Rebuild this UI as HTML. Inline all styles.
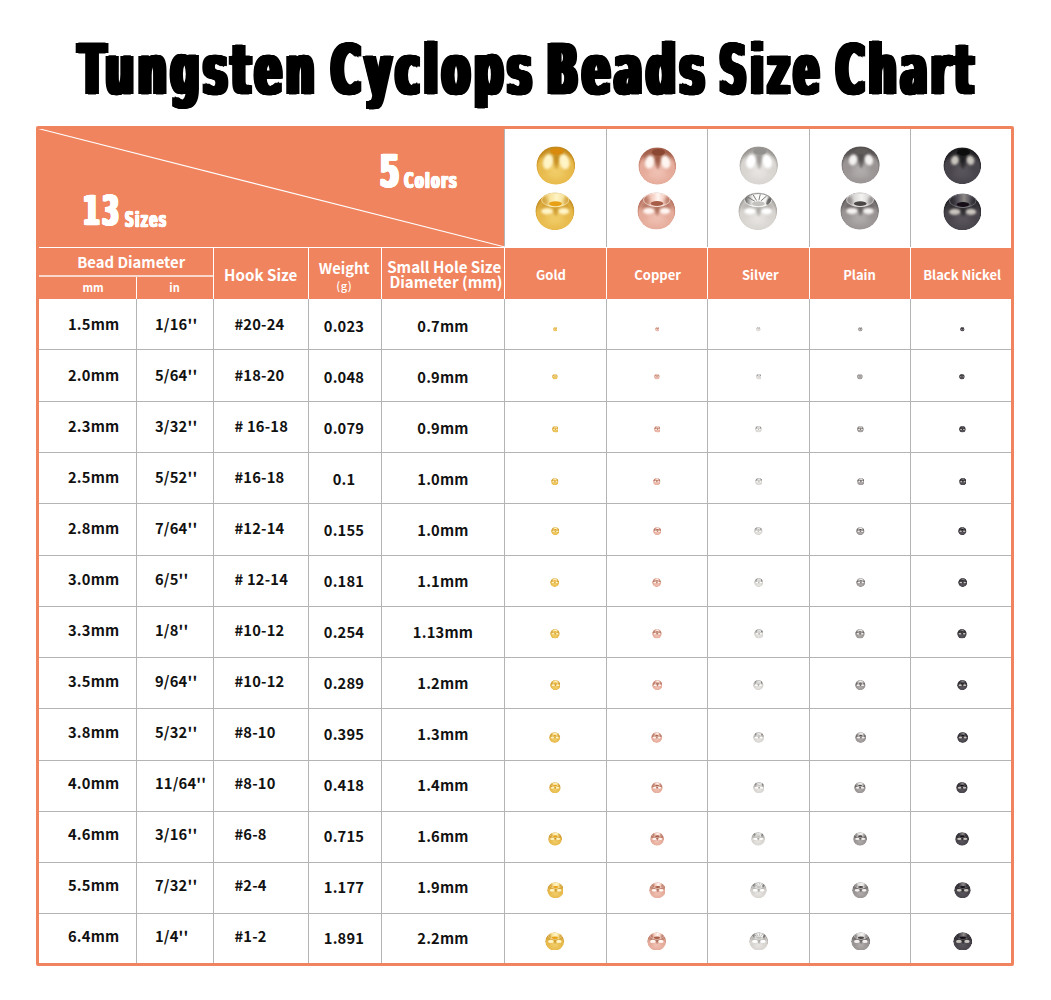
<!DOCTYPE html><html lang="en"><head><meta charset="utf-8"><title>Tungsten Cyclops Beads Size Chart</title><style>
*{margin:0;padding:0;box-sizing:border-box}
html,body{width:1051px;height:1000px;background:#fff;overflow:hidden}
body{position:relative;font-family:"Noto Sans CJK SC","Liberation Sans",sans-serif;font-weight:700;color:#111}
.abs{position:absolute}
.title span{position:absolute;left:0;top:0;transform-origin:0 0;font-family:'DejaVu Sans',sans-serif;font-weight:700;font-size:62.0px;line-height:76.0px;letter-spacing:7.0px;-webkit-text-stroke:1.0px #000;text-shadow:-5px 0 0 #000,-4px 0 0 #000,-3px 0 0 #000,-2px 0 0 #000,-1px 0 0 #000,1px 0 0 #000,2px 0 0 #000,3px 0 0 #000,4px 0 0 #000,5px 0 0 #000;color:#000;white-space:nowrap}
.frame{left:36px;top:126px;width:978px;height:840px;border:3px solid #f0845f;border-radius:2px}
.or{background:#f0845f}
.vl{width:1px;background:#b4b4b4}
.hl{height:1px;background:#b4b4b4}
.w{background:#fff}
.t{position:absolute;white-space:nowrap;font-size:14.7px;letter-spacing:0.2px;line-height:20px;height:20px}
.h{position:absolute;white-space:nowrap;color:#fff;line-height:20px}
.imp2{position:absolute;left:0;top:0;transform-origin:0 0}
</style></head><body>
<div class="title">
<span style="transform:matrix(0.6371,0,0,1.1087,78.59,28.39)">Tungsten</span>
<span style="transform:matrix(0.6459,0,0,1.1087,331.29,28.39)">Cyclops</span>
<span style="transform:matrix(0.6539,0,0,1.1087,546.95,28.39)">Beads</span>
<span style="transform:matrix(0.603,0,0,1.1087,719.6,28.39)">Size</span>
<span style="transform:matrix(0.6236,0,0,1.1087,836.15,28.39)">Chart</span>
</div>
<div class="abs or" style="left:38px;top:128px;width:467px;height:171px"></div>
<div class="abs or" style="left:504px;top:248px;width:508px;height:51px"></div>
<div class="abs vl" style="left:136px;top:299px;height:665px"></div>
<div class="abs vl" style="left:213px;top:299px;height:665px"></div>
<div class="abs vl" style="left:308px;top:299px;height:665px"></div>
<div class="abs vl" style="left:381px;top:299px;height:665px"></div>
<div class="abs vl" style="left:504px;top:129px;height:835px"></div>
<div class="abs vl" style="left:606px;top:129px;height:835px"></div>
<div class="abs vl" style="left:707px;top:129px;height:835px"></div>
<div class="abs vl" style="left:809px;top:129px;height:835px"></div>
<div class="abs vl" style="left:910px;top:129px;height:835px"></div>
<div class="abs vl w" style="left:213px;top:247px;height:52px"></div>
<div class="abs vl w" style="left:308px;top:247px;height:52px"></div>
<div class="abs vl w" style="left:381px;top:247px;height:52px"></div>
<div class="abs vl w" style="left:136px;top:277px;height:22px"></div>
<div class="abs vl w" style="left:504px;top:247px;height:52px"></div>
<div class="abs vl w" style="left:606px;top:247px;height:52px"></div>
<div class="abs vl w" style="left:707px;top:247px;height:52px"></div>
<div class="abs vl w" style="left:809px;top:247px;height:52px"></div>
<div class="abs vl w" style="left:910px;top:247px;height:52px"></div>
<div class="abs hl w" style="left:38px;top:247px;width:467px"></div>
<div class="abs" style="left:38px;top:275px;width:176px;height:2px;background:rgba(255,255,255,.68)"></div>
<div class="abs hl" style="left:39px;top:349px;width:972px"></div>
<div class="abs hl" style="left:39px;top:401px;width:972px"></div>
<div class="abs hl" style="left:39px;top:452px;width:972px"></div>
<div class="abs hl" style="left:39px;top:503px;width:972px"></div>
<div class="abs hl" style="left:39px;top:555px;width:972px"></div>
<div class="abs hl" style="left:39px;top:606px;width:972px"></div>
<div class="abs hl" style="left:39px;top:657px;width:972px"></div>
<div class="abs hl" style="left:39px;top:708px;width:972px"></div>
<div class="abs hl" style="left:39px;top:760px;width:972px"></div>
<div class="abs hl" style="left:39px;top:811px;width:972px"></div>
<div class="abs hl" style="left:39px;top:862px;width:972px"></div>
<div class="abs hl" style="left:39px;top:913px;width:972px"></div>
<svg class="abs" style="left:38px;top:128px" width="467" height="120" viewBox="0 0 467 120"><line x1="0" y1="0.5" x2="467" y2="119" stroke="#fff" stroke-width="1.1"/></svg>
<div class="abs frame"></div>
<span class="imp2" style="font-family:'DejaVu Sans',sans-serif;font-weight:700;font-size:38px;line-height:48px;letter-spacing:4px;text-shadow:-2.5px 0 0 #fff,-2px 0 0 #fff,-1.5px 0 0 #fff,-1px 0 0 #fff,-0.5px 0 0 #fff,0.5px 0 0 #fff,1px 0 0 #fff,1.5px 0 0 #fff,2px 0 0 #fff,2.5px 0 0 #fff;-webkit-text-stroke:0.6px #fff;color:#fff;white-space:nowrap;transform:matrix(0.6327,0,0,1.0931,82.93,184.96)">13</span>
<span class="imp2" style="font-family:'DejaVu Sans',sans-serif;font-weight:700;font-size:20px;line-height:30px;letter-spacing:2.5px;text-shadow:-1.5px 0 0 #fff,-1px 0 0 #fff,-0.5px 0 0 #fff,0.5px 0 0 #fff,1px 0 0 #fff,1.5px 0 0 #fff;-webkit-text-stroke:0.6px #fff;color:#fff;white-space:nowrap;transform:matrix(0.6014,0,0,1.0333,125.0,203.97)">Sizes</span>
<span class="imp2" style="font-family:'DejaVu Sans',sans-serif;font-weight:700;font-size:38px;line-height:48px;letter-spacing:0px;text-shadow:-2.5px 0 0 #fff,-2px 0 0 #fff,-1.5px 0 0 #fff,-1px 0 0 #fff,-0.5px 0 0 #fff,0.5px 0 0 #fff,1px 0 0 #fff,1.5px 0 0 #fff,2px 0 0 #fff,2.5px 0 0 #fff;-webkit-text-stroke:0.6px #fff;color:#fff;white-space:nowrap;transform:matrix(0.7231,0,0,1.15,380.0,144.3)">5</span>
<span class="imp2" style="font-family:'DejaVu Sans',sans-serif;font-weight:700;font-size:20px;line-height:30px;letter-spacing:2.5px;text-shadow:-1.5px 0 0 #fff,-1px 0 0 #fff,-0.5px 0 0 #fff,0.5px 0 0 #fff,1px 0 0 #fff,1.5px 0 0 #fff;-webkit-text-stroke:0.6px #fff;color:#fff;white-space:nowrap;transform:matrix(0.6286,0,0,1.0467,404.2,164.67)">Colors</span>
<div class="h" style="left:31.19999999999999px;width:200px;text-align:center;top:252px;font-size:14.85px;">Bead Diameter</div>
<div class="h" style="left:-7px;width:200px;text-align:center;top:277.2px;font-size:11px;">mm</div>
<div class="h" style="left:74.5px;width:200px;text-align:center;top:277.2px;font-size:11px;">in</div>
<div class="h" style="left:160.7px;width:200px;text-align:center;top:263.5px;font-size:15.1px;">Hook Size</div>
<div class="h" style="left:244.10000000000002px;width:200px;text-align:center;top:258px;font-size:14.7px;">Weight</div>
<div class="h" style="left:244.2px;width:200px;text-align:center;top:274.6px;font-size:11px;font-weight:500;letter-spacing:0.6px">(g)</div>
<div class="h" style="left:344.2px;width:200px;text-align:center;top:256.2px;font-size:15.1px;">Small Hole Size</div>
<div class="h" style="left:346px;width:200px;text-align:center;top:271.2px;font-size:15.15px;">Diameter (mm)</div>
<div class="h" style="left:451px;width:200px;text-align:center;top:264.6px;font-size:13px;">Gold</div>
<div class="h" style="left:557.6px;width:200px;text-align:center;top:264.6px;font-size:13px;">Copper</div>
<div class="h" style="left:660.4px;width:200px;text-align:center;top:264.6px;font-size:13px;">Silver</div>
<div class="h" style="left:759.5px;width:200px;text-align:center;top:264.6px;font-size:13px;">Plain</div>
<div class="h" style="left:862.2px;width:200px;text-align:center;top:264.6px;font-size:13px;">Black Nickel</div>
<svg width="0" height="0" style="position:absolute"><defs><filter id="bl05" x="-50%" y="-50%" width="200%" height="200%"><feGaussianBlur stdDeviation="0.5"/></filter><filter id="bl1" x="-50%" y="-50%" width="200%" height="200%"><feGaussianBlur stdDeviation="1"/></filter><filter id="bl15" x="-50%" y="-50%" width="200%" height="200%"><feGaussianBlur stdDeviation="1.3"/></filter><filter id="bl2" x="-50%" y="-50%" width="200%" height="200%"><feGaussianBlur stdDeviation="2"/></filter><filter id="bl3" x="-50%" y="-50%" width="200%" height="200%"><feGaussianBlur stdDeviation="3"/></filter><radialGradient id="g-gold" cx="50%" cy="56%" r="52%" fx="50%" fy="60%"><stop offset="0" stop-color="#f2d06e"/><stop offset="0.55" stop-color="#e8ba4c"/><stop offset="0.86" stop-color="#e8ba4c"/><stop offset="1" stop-color="#c48c20"/></radialGradient><linearGradient id="c-gold" x1="0" x2="1" y1="0" y2="0"><stop offset="0" stop-color="#dba83a"/><stop offset="0.3" stop-color="#f7e29a"/><stop offset="0.55" stop-color="#fff4c6"/><stop offset="0.8" stop-color="#f7e29a"/><stop offset="1" stop-color="#dba83a"/></linearGradient><radialGradient id="g-copper" cx="50%" cy="56%" r="52%" fx="50%" fy="60%"><stop offset="0" stop-color="#f1c4b7"/><stop offset="0.55" stop-color="#e6ac9b"/><stop offset="0.86" stop-color="#e6ac9b"/><stop offset="1" stop-color="#bd7966"/></radialGradient><linearGradient id="c-copper" x1="0" x2="1" y1="0" y2="0"><stop offset="0" stop-color="#c27c68"/><stop offset="0.3" stop-color="#f3c9bb"/><stop offset="0.55" stop-color="#fff5f1"/><stop offset="0.8" stop-color="#f3c9bb"/><stop offset="1" stop-color="#c27c68"/></linearGradient><radialGradient id="g-silver" cx="50%" cy="56%" r="52%" fx="50%" fy="60%"><stop offset="0" stop-color="#e9e7e4"/><stop offset="0.55" stop-color="#d8d5d1"/><stop offset="0.86" stop-color="#d8d5d1"/><stop offset="1" stop-color="#9f9c98"/></radialGradient><linearGradient id="c-silver" x1="0" x2="1" y1="0" y2="0"><stop offset="0" stop-color="#5c5a58"/><stop offset="0.3" stop-color="#f4f3f1"/><stop offset="0.55" stop-color="#ffffff"/><stop offset="0.8" stop-color="#f4f3f1"/><stop offset="1" stop-color="#5c5a58"/></linearGradient><radialGradient id="g-plain" cx="50%" cy="56%" r="52%" fx="50%" fy="60%"><stop offset="0" stop-color="#b4b0af"/><stop offset="0.55" stop-color="#9a9594"/><stop offset="0.86" stop-color="#9a9594"/><stop offset="1" stop-color="#625e5e"/></radialGradient><linearGradient id="c-plain" x1="0" x2="1" y1="0" y2="0"><stop offset="0" stop-color="#a09c9b"/><stop offset="0.3" stop-color="#dcdad8"/><stop offset="0.55" stop-color="#f4f2f0"/><stop offset="0.8" stop-color="#dcdad8"/><stop offset="1" stop-color="#a09c9b"/></linearGradient><radialGradient id="g-black" cx="50%" cy="56%" r="52%" fx="50%" fy="60%"><stop offset="0" stop-color="#5c585e"/><stop offset="0.55" stop-color="#49454c"/><stop offset="0.86" stop-color="#49454c"/><stop offset="1" stop-color="#242226"/></radialGradient><linearGradient id="c-black" x1="0" x2="1" y1="0" y2="0"><stop offset="0" stop-color="#2e2c31"/><stop offset="0.3" stop-color="#55515a"/><stop offset="0.55" stop-color="#8d8986"/><stop offset="0.8" stop-color="#55515a"/><stop offset="1" stop-color="#2e2c31"/></linearGradient></defs><symbol id="t-gold" viewBox="0 0 40 40"><clipPath id="cp1"><ellipse cx="20" cy="20" rx="19.6" ry="19.6"/></clipPath><g clip-path="url(#cp1)"><ellipse cx="20.00" cy="20.00" rx="19.60" ry="19.60" fill="url(#g-gold)"/><ellipse cx="20.00" cy="8.24" rx="15.68" ry="8.82" fill="#c0871a" opacity="0.6" filter="url(#bl2)"/><ellipse cx="12.16" cy="16.08" rx="5.10" ry="7.84" fill="#fff4c6" filter="url(#bl15)" transform="rotate(12 12.16 16.08)"/><ellipse cx="28.62" cy="16.08" rx="5.10" ry="7.84" fill="#fff4c6" filter="url(#bl15)" transform="rotate(-12 28.62 16.08)"/><ellipse cx="20.59" cy="15.10" rx="1.76" ry="8.82" fill="#c0871a" opacity="0.75" filter="url(#bl1)"/><ellipse cx="20.00" cy="29.80" rx="11.76" ry="5.88" fill="#f2d06e" opacity="0.5" filter="url(#bl3)"/><ellipse cx="21.18" cy="5.50" rx="6.66" ry="3.53" fill="#d98a0c" filter="url(#bl05)"/></g></symbol><symbol id="b-gold" viewBox="0 0 40 40"><clipPath id="cp2"><ellipse cx="20" cy="20" rx="19.6" ry="19.6"/></clipPath><g clip-path="url(#cp2)"><ellipse cx="20.00" cy="20.00" rx="19.60" ry="19.60" fill="url(#g-gold)"/><ellipse cx="20.00" cy="14.51" rx="17.64" ry="5.88" fill="#c0871a" opacity="0.42" filter="url(#bl2)"/><ellipse cx="12.16" cy="20.00" rx="5.88" ry="3.33" fill="#fff4c6" filter="url(#bl15)"/><ellipse cx="28.82" cy="20.00" rx="5.49" ry="3.33" fill="#fff4c6" filter="url(#bl15)"/><ellipse cx="20.78" cy="20.39" rx="1.57" ry="4.90" fill="#c0871a" opacity="0.6" filter="url(#bl1)"/><ellipse cx="20.00" cy="30.78" rx="11.76" ry="5.49" fill="#f2d06e" opacity="0.5" filter="url(#bl3)"/><ellipse cx="20.39" cy="8.24" rx="13.72" ry="7.06" fill="url(#c-gold)" stroke="#fff4c6" stroke-width="0.8"/><ellipse cx="10.20" cy="9.22" rx="2.74" ry="4.31" fill="#c0871a" opacity="0.35" filter="url(#bl1)" transform="rotate(-20 10.20 9.22)"/><ellipse cx="30.78" cy="9.22" rx="2.74" ry="4.31" fill="#c0871a" opacity="0.35" filter="url(#bl1)" transform="rotate(20 30.78 9.22)"/><ellipse cx="20.59" cy="12.16" rx="6.47" ry="2.55" fill="#e8a013" filter="url(#bl05)"/></g></symbol><symbol id="t-copper" viewBox="0 0 40 40"><clipPath id="cp3"><ellipse cx="20" cy="20" rx="19.6" ry="19.6"/></clipPath><g clip-path="url(#cp3)"><ellipse cx="20.00" cy="20.00" rx="19.60" ry="19.60" fill="url(#g-copper)"/><ellipse cx="20.00" cy="8.24" rx="15.68" ry="8.82" fill="#96523e" opacity="0.78" filter="url(#bl2)"/><ellipse cx="12.16" cy="15.69" rx="4.90" ry="7.06" fill="#fff5f1" filter="url(#bl15)" transform="rotate(12 12.16 15.69)"/><ellipse cx="28.62" cy="15.69" rx="4.90" ry="7.06" fill="#fff5f1" filter="url(#bl15)" transform="rotate(-12 28.62 15.69)"/><ellipse cx="20.59" cy="15.10" rx="1.76" ry="8.82" fill="#96523e" opacity="0.75" filter="url(#bl1)"/><ellipse cx="20.00" cy="29.80" rx="11.76" ry="5.88" fill="#f1c4b7" opacity="0.5" filter="url(#bl3)"/><ellipse cx="21.18" cy="5.50" rx="6.66" ry="3.53" fill="#8a4632" filter="url(#bl05)"/></g></symbol><symbol id="b-copper" viewBox="0 0 40 40"><clipPath id="cp4"><ellipse cx="20" cy="20" rx="19.6" ry="19.6"/></clipPath><g clip-path="url(#cp4)"><ellipse cx="20.00" cy="20.00" rx="19.60" ry="19.60" fill="url(#g-copper)"/><ellipse cx="20.00" cy="14.51" rx="17.64" ry="5.88" fill="#96523e" opacity="0.5459999999999999" filter="url(#bl2)"/><ellipse cx="12.16" cy="20.00" rx="5.88" ry="3.33" fill="#fff5f1" filter="url(#bl15)"/><ellipse cx="28.82" cy="20.00" rx="5.49" ry="3.33" fill="#fff5f1" filter="url(#bl15)"/><ellipse cx="20.78" cy="20.39" rx="1.57" ry="4.90" fill="#96523e" opacity="0.6" filter="url(#bl1)"/><ellipse cx="20.00" cy="30.78" rx="11.76" ry="5.49" fill="#f1c4b7" opacity="0.5" filter="url(#bl3)"/><ellipse cx="20.39" cy="8.24" rx="13.72" ry="7.06" fill="url(#c-copper)" stroke="#fff5f1" stroke-width="0.8"/><ellipse cx="10.20" cy="9.22" rx="2.74" ry="4.31" fill="#96523e" opacity="0.35" filter="url(#bl1)" transform="rotate(-20 10.20 9.22)"/><ellipse cx="30.78" cy="9.22" rx="2.74" ry="4.31" fill="#96523e" opacity="0.35" filter="url(#bl1)" transform="rotate(20 30.78 9.22)"/><ellipse cx="20.59" cy="12.16" rx="6.47" ry="2.55" fill="#a75d47" filter="url(#bl05)"/></g></symbol><symbol id="t-silver" viewBox="0 0 40 40"><clipPath id="cp5"><ellipse cx="20" cy="20" rx="19.6" ry="19.6"/></clipPath><g clip-path="url(#cp5)"><ellipse cx="20.00" cy="20.00" rx="19.60" ry="19.60" fill="url(#g-silver)"/><ellipse cx="20.00" cy="8.24" rx="15.68" ry="8.82" fill="#94918d" opacity="0.65" filter="url(#bl2)"/><ellipse cx="12.16" cy="15.69" rx="5.10" ry="7.45" fill="#ffffff" filter="url(#bl15)" transform="rotate(12 12.16 15.69)"/><ellipse cx="28.62" cy="15.69" rx="5.10" ry="7.45" fill="#ffffff" filter="url(#bl15)" transform="rotate(-12 28.62 15.69)"/><ellipse cx="20.59" cy="15.10" rx="1.76" ry="8.82" fill="#94918d" opacity="0.75" filter="url(#bl1)"/><ellipse cx="20.00" cy="29.80" rx="11.76" ry="5.88" fill="#e9e7e4" opacity="0.5" filter="url(#bl3)"/><ellipse cx="21.18" cy="5.50" rx="6.66" ry="3.53" fill="#93918e" filter="url(#bl05)"/></g></symbol><symbol id="b-silver" viewBox="0 0 40 40"><clipPath id="cp6"><ellipse cx="20" cy="20" rx="19.6" ry="19.6"/></clipPath><g clip-path="url(#cp6)"><ellipse cx="20.00" cy="20.00" rx="19.60" ry="19.60" fill="url(#g-silver)"/><ellipse cx="20.00" cy="14.51" rx="17.64" ry="5.88" fill="#94918d" opacity="0.45499999999999996" filter="url(#bl2)"/><ellipse cx="12.16" cy="20.00" rx="5.88" ry="3.33" fill="#ffffff" filter="url(#bl15)"/><ellipse cx="28.82" cy="20.00" rx="5.49" ry="3.33" fill="#ffffff" filter="url(#bl15)"/><ellipse cx="20.78" cy="20.39" rx="1.57" ry="4.90" fill="#94918d" opacity="0.6" filter="url(#bl1)"/><ellipse cx="20.00" cy="30.78" rx="11.76" ry="5.49" fill="#e9e7e4" opacity="0.5" filter="url(#bl3)"/><ellipse cx="20.39" cy="8.24" rx="13.72" ry="7.06" fill="url(#c-silver)" stroke="#ffffff" stroke-width="0.8"/><line x1="17.00" y1="9.61" x2="9.87" y2="5.30" stroke="#5c5a58" stroke-width="1" opacity="0.8"/><line x1="18.74" y1="8.82" x2="15.26" y2="2.91" stroke="#5c5a58" stroke-width="1" opacity="0.8"/><line x1="21.07" y1="8.66" x2="22.50" y2="2.45" stroke="#5c5a58" stroke-width="1" opacity="0.8"/><line x1="23.16" y1="9.21" x2="28.98" y2="4.08" stroke="#5c5a58" stroke-width="1" opacity="0.8"/><path d="M7.06 8.24 A13.33 6.66 0 0 1 33.72 8.24" fill="none" stroke="#5c5a58" stroke-width="0.9" opacity="0.75"/><ellipse cx="30.78" cy="9.81" rx="1.76" ry="3.92" fill="#5c5a58" opacity="0.8" filter="url(#bl05)" transform="rotate(25 30.78 9.81)"/><ellipse cx="20.59" cy="12.16" rx="6.47" ry="2.55" fill="#c4c2bf" filter="url(#bl05)"/></g></symbol><symbol id="t-plain" viewBox="0 0 40 40"><clipPath id="cp7"><ellipse cx="20" cy="20" rx="19.6" ry="19.6"/></clipPath><g clip-path="url(#cp7)"><ellipse cx="20.00" cy="20.00" rx="19.60" ry="19.60" fill="url(#g-plain)"/><ellipse cx="20.00" cy="8.24" rx="15.68" ry="8.82" fill="#524e4e" opacity="0.85" filter="url(#bl2)"/><ellipse cx="12.36" cy="14.51" rx="4.51" ry="5.88" fill="#f4f2f0" filter="url(#bl15)" transform="rotate(12 12.36 14.51)"/><ellipse cx="28.43" cy="14.51" rx="4.51" ry="5.88" fill="#f4f2f0" filter="url(#bl15)" transform="rotate(-12 28.43 14.51)"/><ellipse cx="20.59" cy="15.10" rx="1.76" ry="8.82" fill="#524e4e" opacity="0.75" filter="url(#bl1)"/><ellipse cx="20.00" cy="29.80" rx="11.76" ry="5.88" fill="#b4b0af" opacity="0.5" filter="url(#bl3)"/><ellipse cx="21.18" cy="5.50" rx="6.66" ry="3.53" fill="#5f5b5a" filter="url(#bl05)"/></g></symbol><symbol id="b-plain" viewBox="0 0 40 40"><clipPath id="cp8"><ellipse cx="20" cy="20" rx="19.6" ry="19.6"/></clipPath><g clip-path="url(#cp8)"><ellipse cx="20.00" cy="20.00" rx="19.60" ry="19.60" fill="url(#g-plain)"/><ellipse cx="20.00" cy="14.51" rx="17.64" ry="5.88" fill="#524e4e" opacity="0.595" filter="url(#bl2)"/><ellipse cx="12.16" cy="20.00" rx="5.88" ry="3.33" fill="#f4f2f0" filter="url(#bl15)"/><ellipse cx="28.82" cy="20.00" rx="5.49" ry="3.33" fill="#f4f2f0" filter="url(#bl15)"/><ellipse cx="20.78" cy="20.39" rx="1.57" ry="4.90" fill="#524e4e" opacity="0.6" filter="url(#bl1)"/><ellipse cx="20.00" cy="30.78" rx="11.76" ry="5.49" fill="#b4b0af" opacity="0.5" filter="url(#bl3)"/><ellipse cx="20.39" cy="8.24" rx="13.72" ry="7.06" fill="url(#c-plain)" stroke="#f4f2f0" stroke-width="0.8"/><ellipse cx="10.20" cy="9.22" rx="2.74" ry="4.31" fill="#524e4e" opacity="0.35" filter="url(#bl1)" transform="rotate(-20 10.20 9.22)"/><ellipse cx="30.78" cy="9.22" rx="2.74" ry="4.31" fill="#524e4e" opacity="0.35" filter="url(#bl1)" transform="rotate(20 30.78 9.22)"/><ellipse cx="20.59" cy="12.16" rx="6.47" ry="2.55" fill="#4b4747" filter="url(#bl05)"/></g></symbol><symbol id="t-black" viewBox="0 0 40 40"><clipPath id="cp9"><ellipse cx="20" cy="20" rx="19.6" ry="19.6"/></clipPath><g clip-path="url(#cp9)"><ellipse cx="20.00" cy="20.00" rx="19.60" ry="19.60" fill="url(#g-black)"/><ellipse cx="20.00" cy="8.24" rx="15.68" ry="8.82" fill="#1c1a1e" opacity="0.7" filter="url(#bl2)"/><ellipse cx="12.36" cy="14.12" rx="4.12" ry="5.10" fill="#c9c5be" filter="url(#bl15)" transform="rotate(12 12.36 14.12)"/><ellipse cx="28.43" cy="14.12" rx="4.12" ry="5.10" fill="#c9c5be" filter="url(#bl15)" transform="rotate(-12 28.43 14.12)"/><ellipse cx="20.59" cy="15.10" rx="1.76" ry="8.82" fill="#1c1a1e" opacity="0.75" filter="url(#bl1)"/><ellipse cx="20.00" cy="29.80" rx="11.76" ry="5.88" fill="#5c585e" opacity="0.5" filter="url(#bl3)"/><ellipse cx="21.18" cy="5.50" rx="6.66" ry="3.53" fill="#0c0b0e" filter="url(#bl05)"/></g></symbol><symbol id="b-black" viewBox="0 0 40 40"><clipPath id="cp10"><ellipse cx="20" cy="20" rx="19.6" ry="19.6"/></clipPath><g clip-path="url(#cp10)"><ellipse cx="20.00" cy="20.00" rx="19.60" ry="19.60" fill="url(#g-black)"/><ellipse cx="20.00" cy="14.51" rx="17.64" ry="5.88" fill="#1c1a1e" opacity="0.48999999999999994" filter="url(#bl2)"/><ellipse cx="12.16" cy="20.00" rx="5.88" ry="3.33" fill="#c9c5be" filter="url(#bl15)"/><ellipse cx="28.82" cy="20.00" rx="5.49" ry="3.33" fill="#c9c5be" filter="url(#bl15)"/><ellipse cx="20.78" cy="20.39" rx="1.57" ry="4.90" fill="#1c1a1e" opacity="0.6" filter="url(#bl1)"/><ellipse cx="20.00" cy="30.78" rx="11.76" ry="5.49" fill="#5c585e" opacity="0.5" filter="url(#bl3)"/><ellipse cx="20.39" cy="8.24" rx="13.72" ry="7.06" fill="url(#c-black)" stroke="#8a8690" stroke-width="0.8"/><ellipse cx="10.20" cy="9.22" rx="2.74" ry="4.31" fill="#1c1a1e" opacity="0.35" filter="url(#bl1)" transform="rotate(-20 10.20 9.22)"/><ellipse cx="30.78" cy="9.22" rx="2.74" ry="4.31" fill="#1c1a1e" opacity="0.35" filter="url(#bl1)" transform="rotate(20 30.78 9.22)"/><ellipse cx="20.59" cy="12.16" rx="6.47" ry="2.55" fill="#121114" filter="url(#bl05)"/></g></symbol></svg>
<div class="t" style="left:68px;top:314.2px">1.5mm</div>
<div class="t" style="left:155px;top:314.2px">1/16''</div>
<div class="t" style="left:234.5px;top:313.9px">#20-24</div>
<div class="t" style="left:294px;width:100px;text-align:center;top:315.8px">0.023</div>
<div class="t" style="left:393px;width:100px;text-align:center;top:315.8px">0.7mm</div>
<svg class="abs" style="left:552.70px;top:327.26px" width="4.59" height="4.48" viewBox="0 0 40 40" preserveAspectRatio="none"><use href="#b-gold"/></svg>
<svg class="abs" style="left:654.70px;top:327.26px" width="4.59" height="4.48" viewBox="0 0 40 40" preserveAspectRatio="none"><use href="#b-copper"/></svg>
<svg class="abs" style="left:756.20px;top:327.26px" width="4.59" height="4.48" viewBox="0 0 40 40" preserveAspectRatio="none"><use href="#b-silver"/></svg>
<svg class="abs" style="left:858.00px;top:327.26px" width="4.59" height="4.48" viewBox="0 0 40 40" preserveAspectRatio="none"><use href="#b-plain"/></svg>
<svg class="abs" style="left:960.00px;top:327.26px" width="4.59" height="4.48" viewBox="0 0 40 40" preserveAspectRatio="none"><use href="#b-black"/></svg>
<div class="t" style="left:68px;top:365.2px">2.0mm</div>
<div class="t" style="left:155px;top:365.2px">5/64''</div>
<div class="t" style="left:234.5px;top:364.9px">#18-20</div>
<div class="t" style="left:294px;width:100px;text-align:center;top:366.8px">0.048</div>
<div class="t" style="left:393px;width:100px;text-align:center;top:366.8px">0.9mm</div>
<svg class="abs" style="left:552.09px;top:374.16px" width="5.82" height="5.67" viewBox="0 0 40 40" preserveAspectRatio="none"><use href="#b-gold"/></svg>
<svg class="abs" style="left:654.09px;top:374.16px" width="5.82" height="5.67" viewBox="0 0 40 40" preserveAspectRatio="none"><use href="#b-copper"/></svg>
<svg class="abs" style="left:755.59px;top:374.16px" width="5.82" height="5.67" viewBox="0 0 40 40" preserveAspectRatio="none"><use href="#b-silver"/></svg>
<svg class="abs" style="left:857.39px;top:374.16px" width="5.82" height="5.67" viewBox="0 0 40 40" preserveAspectRatio="none"><use href="#b-plain"/></svg>
<svg class="abs" style="left:959.39px;top:374.16px" width="5.82" height="5.67" viewBox="0 0 40 40" preserveAspectRatio="none"><use href="#b-black"/></svg>
<div class="t" style="left:68px;top:416.2px">2.3mm</div>
<div class="t" style="left:155px;top:416.2px">3/32''</div>
<div class="t" style="left:234.5px;top:415.9px"># 16-18</div>
<div class="t" style="left:294px;width:100px;text-align:center;top:417.8px">0.079</div>
<div class="t" style="left:393px;width:100px;text-align:center;top:417.8px">0.9mm</div>
<svg class="abs" style="left:551.58px;top:426.17px" width="6.84" height="6.67" viewBox="0 0 40 40" preserveAspectRatio="none"><use href="#b-gold"/></svg>
<svg class="abs" style="left:653.58px;top:426.17px" width="6.84" height="6.67" viewBox="0 0 40 40" preserveAspectRatio="none"><use href="#b-copper"/></svg>
<svg class="abs" style="left:755.08px;top:426.17px" width="6.84" height="6.67" viewBox="0 0 40 40" preserveAspectRatio="none"><use href="#b-silver"/></svg>
<svg class="abs" style="left:856.88px;top:426.17px" width="6.84" height="6.67" viewBox="0 0 40 40" preserveAspectRatio="none"><use href="#b-plain"/></svg>
<svg class="abs" style="left:958.88px;top:426.17px" width="6.84" height="6.67" viewBox="0 0 40 40" preserveAspectRatio="none"><use href="#b-black"/></svg>
<div class="t" style="left:68px;top:467.2px">2.5mm</div>
<div class="t" style="left:155px;top:467.2px">5/52''</div>
<div class="t" style="left:234.5px;top:466.9px">#16-18</div>
<div class="t" style="left:294px;width:100px;text-align:center;top:468.8px">0.1</div>
<div class="t" style="left:393px;width:100px;text-align:center;top:468.8px">1.0mm</div>
<svg class="abs" style="left:551.22px;top:477.72px" width="7.55" height="7.36" viewBox="0 0 40 40" preserveAspectRatio="none"><use href="#b-gold"/></svg>
<svg class="abs" style="left:653.22px;top:477.72px" width="7.55" height="7.36" viewBox="0 0 40 40" preserveAspectRatio="none"><use href="#b-copper"/></svg>
<svg class="abs" style="left:754.72px;top:477.72px" width="7.55" height="7.36" viewBox="0 0 40 40" preserveAspectRatio="none"><use href="#b-silver"/></svg>
<svg class="abs" style="left:856.52px;top:477.72px" width="7.55" height="7.36" viewBox="0 0 40 40" preserveAspectRatio="none"><use href="#b-plain"/></svg>
<svg class="abs" style="left:958.52px;top:477.72px" width="7.55" height="7.36" viewBox="0 0 40 40" preserveAspectRatio="none"><use href="#b-black"/></svg>
<div class="t" style="left:68px;top:518.2px">2.8mm</div>
<div class="t" style="left:155px;top:518.2px">7/64''</div>
<div class="t" style="left:234.5px;top:517.9px">#12-14</div>
<div class="t" style="left:294px;width:100px;text-align:center;top:519.8px">0.155</div>
<div class="t" style="left:393px;width:100px;text-align:center;top:519.8px">1.0mm</div>
<svg class="abs" style="left:550.71px;top:527.02px" width="8.57" height="8.36" viewBox="0 0 40 40" preserveAspectRatio="none"><use href="#b-gold"/></svg>
<svg class="abs" style="left:652.71px;top:527.02px" width="8.57" height="8.36" viewBox="0 0 40 40" preserveAspectRatio="none"><use href="#b-copper"/></svg>
<svg class="abs" style="left:754.21px;top:527.02px" width="8.57" height="8.36" viewBox="0 0 40 40" preserveAspectRatio="none"><use href="#b-silver"/></svg>
<svg class="abs" style="left:856.01px;top:527.02px" width="8.57" height="8.36" viewBox="0 0 40 40" preserveAspectRatio="none"><use href="#b-plain"/></svg>
<svg class="abs" style="left:958.01px;top:527.02px" width="8.57" height="8.36" viewBox="0 0 40 40" preserveAspectRatio="none"><use href="#b-black"/></svg>
<div class="t" style="left:68px;top:569.2px">3.0mm</div>
<div class="t" style="left:155px;top:569.2px">6/5''</div>
<div class="t" style="left:234.5px;top:568.9px"># 12-14</div>
<div class="t" style="left:294px;width:100px;text-align:center;top:570.8px">0.181</div>
<div class="t" style="left:393px;width:100px;text-align:center;top:570.8px">1.1mm</div>
<svg class="abs" style="left:550.31px;top:577.62px" width="9.39" height="9.15" viewBox="0 0 40 40" preserveAspectRatio="none"><use href="#b-gold"/></svg>
<svg class="abs" style="left:652.31px;top:577.62px" width="9.39" height="9.15" viewBox="0 0 40 40" preserveAspectRatio="none"><use href="#b-copper"/></svg>
<svg class="abs" style="left:753.81px;top:577.62px" width="9.39" height="9.15" viewBox="0 0 40 40" preserveAspectRatio="none"><use href="#b-silver"/></svg>
<svg class="abs" style="left:855.61px;top:577.62px" width="9.39" height="9.15" viewBox="0 0 40 40" preserveAspectRatio="none"><use href="#b-plain"/></svg>
<svg class="abs" style="left:957.61px;top:577.62px" width="9.39" height="9.15" viewBox="0 0 40 40" preserveAspectRatio="none"><use href="#b-black"/></svg>
<div class="t" style="left:68px;top:620.2px">3.3mm</div>
<div class="t" style="left:155px;top:620.2px">1/8''</div>
<div class="t" style="left:234.5px;top:619.9px">#10-12</div>
<div class="t" style="left:294px;width:100px;text-align:center;top:621.8px">0.254</div>
<div class="t" style="left:393px;width:100px;text-align:center;top:621.8px">1.13mm</div>
<svg class="abs" style="left:550.05px;top:629.37px" width="9.90" height="9.65" viewBox="0 0 40 40" preserveAspectRatio="none"><use href="#b-gold"/></svg>
<svg class="abs" style="left:652.05px;top:629.37px" width="9.90" height="9.65" viewBox="0 0 40 40" preserveAspectRatio="none"><use href="#b-copper"/></svg>
<svg class="abs" style="left:753.55px;top:629.37px" width="9.90" height="9.65" viewBox="0 0 40 40" preserveAspectRatio="none"><use href="#b-silver"/></svg>
<svg class="abs" style="left:855.35px;top:629.37px" width="9.90" height="9.65" viewBox="0 0 40 40" preserveAspectRatio="none"><use href="#b-plain"/></svg>
<svg class="abs" style="left:957.35px;top:629.37px" width="9.90" height="9.65" viewBox="0 0 40 40" preserveAspectRatio="none"><use href="#b-black"/></svg>
<div class="t" style="left:68px;top:671.2px">3.5mm</div>
<div class="t" style="left:155px;top:671.2px">9/64''</div>
<div class="t" style="left:234.5px;top:670.9px">#10-12</div>
<div class="t" style="left:294px;width:100px;text-align:center;top:672.8px">0.289</div>
<div class="t" style="left:393px;width:100px;text-align:center;top:672.8px">1.2mm</div>
<svg class="abs" style="left:549.69px;top:679.93px" width="10.61" height="10.35" viewBox="0 0 40 40" preserveAspectRatio="none"><use href="#b-gold"/></svg>
<svg class="abs" style="left:651.69px;top:679.93px" width="10.61" height="10.35" viewBox="0 0 40 40" preserveAspectRatio="none"><use href="#b-copper"/></svg>
<svg class="abs" style="left:753.19px;top:679.93px" width="10.61" height="10.35" viewBox="0 0 40 40" preserveAspectRatio="none"><use href="#b-silver"/></svg>
<svg class="abs" style="left:854.99px;top:679.93px" width="10.61" height="10.35" viewBox="0 0 40 40" preserveAspectRatio="none"><use href="#b-plain"/></svg>
<svg class="abs" style="left:956.99px;top:679.93px" width="10.61" height="10.35" viewBox="0 0 40 40" preserveAspectRatio="none"><use href="#b-black"/></svg>
<div class="t" style="left:68px;top:722.2px">3.8mm</div>
<div class="t" style="left:155px;top:722.2px">5/32''</div>
<div class="t" style="left:234.5px;top:721.9px">#8-10</div>
<div class="t" style="left:294px;width:100px;text-align:center;top:723.8px">0.395</div>
<div class="t" style="left:393px;width:100px;text-align:center;top:723.8px">1.3mm</div>
<svg class="abs" style="left:549.34px;top:731.88px" width="11.33" height="11.04" viewBox="0 0 40 40" preserveAspectRatio="none"><use href="#b-gold"/></svg>
<svg class="abs" style="left:651.34px;top:731.88px" width="11.33" height="11.04" viewBox="0 0 40 40" preserveAspectRatio="none"><use href="#b-copper"/></svg>
<svg class="abs" style="left:752.84px;top:731.88px" width="11.33" height="11.04" viewBox="0 0 40 40" preserveAspectRatio="none"><use href="#b-silver"/></svg>
<svg class="abs" style="left:854.64px;top:731.88px" width="11.33" height="11.04" viewBox="0 0 40 40" preserveAspectRatio="none"><use href="#b-plain"/></svg>
<svg class="abs" style="left:956.64px;top:731.88px" width="11.33" height="11.04" viewBox="0 0 40 40" preserveAspectRatio="none"><use href="#b-black"/></svg>
<div class="t" style="left:68px;top:773.2px">4.0mm</div>
<div class="t" style="left:155px;top:773.2px">11/64''</div>
<div class="t" style="left:234.5px;top:772.9px">#8-10</div>
<div class="t" style="left:294px;width:100px;text-align:center;top:774.8px">0.418</div>
<div class="t" style="left:393px;width:100px;text-align:center;top:774.8px">1.4mm</div>
<svg class="abs" style="left:549.08px;top:781.83px" width="11.84" height="11.54" viewBox="0 0 40 40" preserveAspectRatio="none"><use href="#b-gold"/></svg>
<svg class="abs" style="left:651.08px;top:781.83px" width="11.84" height="11.54" viewBox="0 0 40 40" preserveAspectRatio="none"><use href="#b-copper"/></svg>
<svg class="abs" style="left:752.58px;top:781.83px" width="11.84" height="11.54" viewBox="0 0 40 40" preserveAspectRatio="none"><use href="#b-silver"/></svg>
<svg class="abs" style="left:854.38px;top:781.83px" width="11.84" height="11.54" viewBox="0 0 40 40" preserveAspectRatio="none"><use href="#b-plain"/></svg>
<svg class="abs" style="left:956.38px;top:781.83px" width="11.84" height="11.54" viewBox="0 0 40 40" preserveAspectRatio="none"><use href="#b-black"/></svg>
<div class="t" style="left:68px;top:824.2px">4.6mm</div>
<div class="t" style="left:155px;top:824.2px">3/16''</div>
<div class="t" style="left:234.5px;top:823.9px">#6-8</div>
<div class="t" style="left:294px;width:100px;text-align:center;top:825.8px">0.715</div>
<div class="t" style="left:393px;width:100px;text-align:center;top:825.8px">1.6mm</div>
<svg class="abs" style="left:547.91px;top:831.99px" width="14.18" height="13.83" viewBox="0 0 40 40" preserveAspectRatio="none"><use href="#b-gold"/></svg>
<svg class="abs" style="left:649.91px;top:831.99px" width="14.18" height="13.83" viewBox="0 0 40 40" preserveAspectRatio="none"><use href="#b-copper"/></svg>
<svg class="abs" style="left:751.41px;top:831.99px" width="14.18" height="13.83" viewBox="0 0 40 40" preserveAspectRatio="none"><use href="#b-silver"/></svg>
<svg class="abs" style="left:853.21px;top:831.99px" width="14.18" height="13.83" viewBox="0 0 40 40" preserveAspectRatio="none"><use href="#b-plain"/></svg>
<svg class="abs" style="left:955.21px;top:831.99px" width="14.18" height="13.83" viewBox="0 0 40 40" preserveAspectRatio="none"><use href="#b-black"/></svg>
<div class="t" style="left:68px;top:875.2px">5.5mm</div>
<div class="t" style="left:155px;top:875.2px">7/32''</div>
<div class="t" style="left:234.5px;top:874.9px">#2-4</div>
<div class="t" style="left:294px;width:100px;text-align:center;top:876.8px">1.177</div>
<div class="t" style="left:393px;width:100px;text-align:center;top:876.8px">1.9mm</div>
<svg class="abs" style="left:546.53px;top:881.64px" width="16.94" height="16.52" viewBox="0 0 40 40" preserveAspectRatio="none"><use href="#b-gold"/></svg>
<svg class="abs" style="left:648.53px;top:881.64px" width="16.94" height="16.52" viewBox="0 0 40 40" preserveAspectRatio="none"><use href="#b-copper"/></svg>
<svg class="abs" style="left:750.03px;top:881.64px" width="16.94" height="16.52" viewBox="0 0 40 40" preserveAspectRatio="none"><use href="#b-silver"/></svg>
<svg class="abs" style="left:851.83px;top:881.64px" width="16.94" height="16.52" viewBox="0 0 40 40" preserveAspectRatio="none"><use href="#b-plain"/></svg>
<svg class="abs" style="left:953.83px;top:881.64px" width="16.94" height="16.52" viewBox="0 0 40 40" preserveAspectRatio="none"><use href="#b-black"/></svg>
<div class="t" style="left:68px;top:926.2px">6.4mm</div>
<div class="t" style="left:155px;top:926.2px">1/4''</div>
<div class="t" style="left:234.5px;top:925.9px">#1-2</div>
<div class="t" style="left:294px;width:100px;text-align:center;top:927.8px">1.891</div>
<div class="t" style="left:393px;width:100px;text-align:center;top:927.8px">2.2mm</div>
<svg class="abs" style="left:545.31px;top:931.55px" width="19.39" height="18.90" viewBox="0 0 40 40" preserveAspectRatio="none"><use href="#b-gold"/></svg>
<svg class="abs" style="left:647.31px;top:931.55px" width="19.39" height="18.90" viewBox="0 0 40 40" preserveAspectRatio="none"><use href="#b-copper"/></svg>
<svg class="abs" style="left:748.81px;top:931.55px" width="19.39" height="18.90" viewBox="0 0 40 40" preserveAspectRatio="none"><use href="#b-silver"/></svg>
<svg class="abs" style="left:850.61px;top:931.55px" width="19.39" height="18.90" viewBox="0 0 40 40" preserveAspectRatio="none"><use href="#b-plain"/></svg>
<svg class="abs" style="left:952.61px;top:931.55px" width="19.39" height="18.90" viewBox="0 0 40 40" preserveAspectRatio="none"><use href="#b-black"/></svg>
<svg class="abs" style="left:535.50px;top:145.61px" width="39.59" height="39.18" viewBox="0 0 40 40" preserveAspectRatio="none"><use href="#t-gold"/></svg><svg class="abs" style="left:535.10px;top:191.81px" width="39.80" height="38.57" viewBox="0 0 40 40" preserveAspectRatio="none"><use href="#b-gold"/></svg><svg class="abs" style="left:637.61px;top:146.62px" width="38.57" height="38.16" viewBox="0 0 40 40" preserveAspectRatio="none"><use href="#t-copper"/></svg><svg class="abs" style="left:637.11px;top:192.42px" width="38.78" height="37.96" viewBox="0 0 40 40" preserveAspectRatio="none"><use href="#b-copper"/></svg><svg class="abs" style="left:738.51px;top:145.61px" width="39.39" height="39.18" viewBox="0 0 40 40" preserveAspectRatio="none"><use href="#t-silver"/></svg><svg class="abs" style="left:738.20px;top:192.11px" width="39.59" height="38.57" viewBox="0 0 40 40" preserveAspectRatio="none"><use href="#b-silver"/></svg><svg class="abs" style="left:840.61px;top:146.12px" width="39.18" height="38.16" viewBox="0 0 40 40" preserveAspectRatio="none"><use href="#t-plain"/></svg><svg class="abs" style="left:840.31px;top:192.32px" width="39.39" height="38.16" viewBox="0 0 40 40" preserveAspectRatio="none"><use href="#b-plain"/></svg><svg class="abs" style="left:942.71px;top:146.62px" width="38.57" height="37.55" viewBox="0 0 40 40" preserveAspectRatio="none"><use href="#t-black"/></svg><svg class="abs" style="left:942.61px;top:192.52px" width="38.78" height="37.76" viewBox="0 0 40 40" preserveAspectRatio="none"><use href="#b-black"/></svg>
</body></html>
